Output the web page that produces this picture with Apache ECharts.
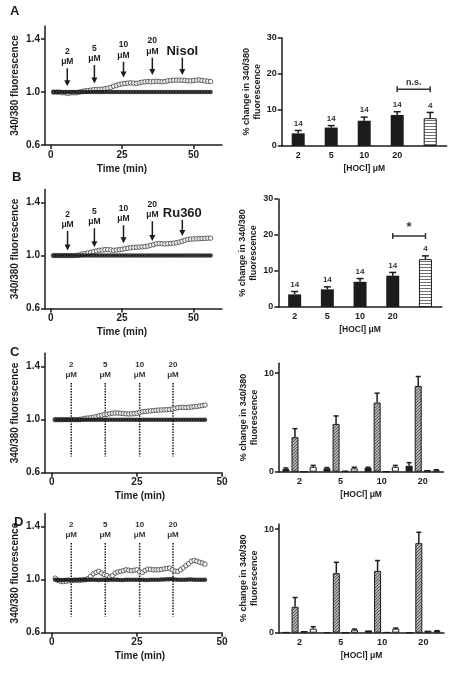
<!DOCTYPE html>
<html><head><meta charset="utf-8">
<script src="https://cdn.jsdelivr.net/npm/echarts@6/dist/echarts.min.js"></script>
<style>html,body{margin:0;padding:0;background:#fff}#c{width:451px;height:675px}</style>
</head><body><div id="c"></div>
<script>
// ---------------- DATA ----------------
const timesAB = [1,2,3,4,5,6,7,8,9,10,11,12,13,14,15,16,17,18,19,20,21,22,23,24,25,26,27,28,29,30,31,32,33,34,35,36,37,38,39,40,41,42,43,44,45,46,47,48,49,50,51,52,53,54,55,56];
const openA = [1.000,1.000,1.000,0.995,0.995,0.990,0.995,0.995,0.995,1.000,
 1.005,1.010,1.012,1.015,1.018,1.020,1.020,1.022,1.025,1.030,
 1.035,1.045,1.050,1.058,1.062,1.065,1.068,1.070,1.068,1.066,
 1.070,1.075,1.078,1.080,1.078,1.080,1.082,1.080,1.078,1.080,
 1.085,1.088,1.090,1.090,1.090,1.090,1.088,1.085,1.085,1.088,
 1.090,1.092,1.088,1.085,1.082,1.080];
const filledA = [1.000,1.000,1.000,1.000,1.000,1.000,1.000,1.000,1.000,1.000,
 1.000,1.000,1.000,1.000,1.000,1.000,1.000,1.000,1.000,1.000,
 1.000,1.000,1.000,1.000,1.000,1.000,1.000,1.000,1.000,1.000,
 1.000,1.000,1.000,1.000,1.000,1.000,1.000,1.000,1.000,1.000,
 1.000,1.000,1.000,1.000,1.000,1.000,1.000,1.000,1.000,1.000,
 1.000,1.000,1.000,1.000,1.000,1.000];
const openB = [1.000,1.000,1.000,1.000,1.000,1.000,1.000,1.000,1.002,1.005,
 1.012,1.015,1.020,1.025,1.030,1.035,1.040,1.042,1.045,1.045,
 1.043,1.040,1.042,1.045,1.048,1.052,1.056,1.060,1.062,1.063,
 1.064,1.066,1.068,1.072,1.078,1.083,1.090,1.092,1.090,1.088,
 1.090,1.092,1.094,1.097,1.102,1.108,1.116,1.122,1.125,1.126,
 1.127,1.128,1.130,1.130,1.132,1.132];
const filledB = [1.000,1.000,1.000,1.000,1.000,1.000,1.000,1.000,1.000,1.000,
 1.000,1.000,1.000,1.000,1.000,1.000,1.000,1.000,1.000,1.000,
 1.000,1.000,1.000,1.000,1.000,1.000,1.000,1.000,1.000,1.000,
 1.000,1.000,1.000,1.000,1.000,1.000,1.000,1.000,1.000,1.000,
 1.000,1.000,1.000,1.000,1.000,1.000,1.000,1.000,1.000,1.000,
 1.000,1.000,1.000,1.000,1.000,1.000];
const timesCD = [1.0,1.8,2.6,3.4,4.2,5.0,5.8,6.6,7.4,8.2,9.0,9.8,10.6,11.4,12.2,13.0,13.8,14.6,15.4,16.2,17.0,17.8,18.6,19.4,20.2,21.0,21.8,22.6,23.4,24.2,25.0,25.8,26.6,27.4,28.2,29.0,29.8,30.6,31.4,32.2,33.0,33.8,34.6,35.4,36.2,37.0,37.8,38.6,39.4,40.2,41.0,41.8,42.6,43.4,44.2,45.0];
const openC = [1.000,1.000,1.000,1.000,1.000,1.000,1.000,1.000,1.000,1.002,
 1.005,1.010,1.012,1.015,1.018,1.022,1.028,1.033,1.038,1.040,
 1.045,1.048,1.050,1.050,1.048,1.046,1.044,1.043,1.044,1.045,
 1.048,1.055,1.060,1.062,1.064,1.066,1.068,1.070,1.072,1.073,
 1.074,1.075,1.076,1.080,1.085,1.090,1.092,1.093,1.092,1.093,
 1.095,1.097,1.100,1.103,1.106,1.110];
const filledC = [1.000,1.000,1.000,1.000,1.000,1.000,1.000,1.000,1.000,1.000,
 1.000,1.000,1.000,1.000,1.000,1.000,1.000,1.000,1.000,1.000,
 1.000,1.000,1.000,1.000,1.000,1.000,1.000,1.000,1.000,1.000,
 1.000,1.000,1.000,1.000,1.000,1.000,1.000,1.000,1.000,1.000,
 1.000,1.000,1.000,1.000,1.000,1.000,1.000,1.000,1.000,1.000,
 1.000,1.000,1.000,1.000,1.000,1.000];
const openD = [1.012,0.995,0.987,0.986,0.988,0.992,0.994,0.995,0.995,0.996,
 0.998,1.000,1.008,1.025,1.045,1.055,1.063,1.050,1.040,1.033,
 1.020,1.030,1.050,1.058,1.063,1.068,1.075,1.072,1.068,1.072,
 1.075,1.060,1.055,1.070,1.080,1.078,1.075,1.075,1.075,1.078,
 1.082,1.085,1.088,1.075,1.065,1.063,1.075,1.090,1.105,1.120,
 1.140,1.145,1.140,1.132,1.126,1.118];
const filledD = [1.000,0.998,0.998,0.998,1.000,1.000,0.998,1.000,1.000,1.000,
 1.000,1.000,1.000,1.000,1.000,1.000,0.998,1.000,1.000,0.998,
 1.000,1.000,1.000,1.000,0.998,0.998,1.000,1.000,1.000,1.000,
 1.000,1.000,1.000,0.998,0.998,1.000,1.000,1.000,1.000,1.002,
 1.002,1.004,1.004,1.006,1.002,1.000,1.000,1.000,1.000,1.002,
 1.002,1.000,1.000,1.000,1.000,1.000];
const timeTicks = [0, 25, 50];
const ratioTicks = [0.6, 1.0, 1.4];

// arrow / dotted-line annotations (data units)
const arrowTimesA = [5.8, 15.3, 25.5, 35.6, 46.1];
const arrowTopsA  = [1.18, 1.204, 1.23, 1.26, 1.26];
const arrowTipsA  = [1.045, 1.065, 1.11, 1.13, 1.13];
const arrowTextA  = ['2\nμM', '5\nμM', '10\nμM', '20\nμM', 'Nisol'];
const arrowTimesB = [5.9, 15.3, 25.5, 35.6, 46.1];
const arrowTopsB  = [1.186, 1.207, 1.23, 1.26, 1.27];
const arrowTipsB  = [1.038, 1.063, 1.093, 1.11, 1.148];
const arrowTextB  = ['2\nμM', '5\nμM', '10\nμM', '20\nμM', 'Ru360'];
const doseTimesCD = [5.7, 15.7, 25.8, 35.6];
const doseTopCD = 1.277, doseBottomCD = 0.723;
const doseTextCD = ['2\nμM', '5\nμM', '10\nμM', '20\nμM'];

// bar panels A/B
const barCats = ['2', '5', '10', '20', ''];
const barA = [3.5, 5.1, 7.0, 8.6, 7.7];
const errA = [4.3, 5.65, 8.0, 9.5, 9.3];
const barB = [3.5, 4.9, 7.0, 8.7, 13.3];
const errB = [4.3, 5.6, 7.9, 9.6, 14.2];
const nLabels = ['14', '14', '14', '14', '4'];
const pctTicksAB = [0, 10, 20, 30];
const bracketA = [3, 15.7, 4], bracketTextA = 'n.s.';
const bracketB = [3, 19.7, 4], bracketTextB = '*';

// grouped bar panels C/D
const groupCats = ['2', '5', '10', '20'];
const cBlack = [0.27, 0.34, 0.37, 0.61], cBlackErr = [0.38, 0.42, 0.45, 0.92];
const cHatch = [3.5, 4.85, 7.02, 8.7],   cHatchErr = [4.37, 5.66, 7.97, 9.66];
const cDark  = [0, 0.1, 0, 0.17];
const cWhite = [0.5, 0.34, 0.5, 0.14],   cWhiteErr = [0.64, 0.45, 0.64, 0.2];
const dBlack = [0.05, 0.03, 0.22, 0];
const dHatch = [2.5, 5.75, 5.97, 8.65],  dHatchErr = [3.4, 6.8, 6.97, 9.7];
const dDark  = [0.16, 0, 0.05, 0.2];
const dWhite = [0.39, 0.29, 0.39, 0.16], dWhiteErr = [0.58, 0.35, 0.45, 0.2];
const pctTicksCD = [0, 10];

// ---------------- STYLE / BUILD ----------------
const FONT = "'Liberation Sans', Arial, Helvetica, sans-serif";
const INK = '#1c1c1c';
function T(size, extra) { return Object.assign({fontFamily: FONT, fontWeight: 'bold', fontSize: size, color: INK}, extra || {}); }

function hatchPattern() {
  const c = document.createElement('canvas'); c.width = 3; c.height = 3;
  const g = c.getContext('2d');
  g.fillStyle = '#b0b0b0'; g.fillRect(0, 0, 3, 3);
  g.fillStyle = '#5a5a5a';
  g.fillRect(0, 2, 1, 1); g.fillRect(1, 1, 1, 1); g.fillRect(2, 0, 1, 1);
  return {image: c, repeat: 'repeat'};
}
function stripePattern() {
  const c = document.createElement('canvas'); c.width = 4; c.height = 3;
  const g = c.getContext('2d');
  g.fillStyle = '#ffffff'; g.fillRect(0, 0, 4, 3);
  g.fillStyle = '#707070'; g.fillRect(0, 0, 4, 1);
  return {image: c, repeat: 'repeat'};
}
const HATCH = hatchPattern();
const STRIPE = stripePattern();

const grids = [], xAxes = [], yAxes = [], series = [];
const axisLineStyle = {show: true, onZero: false, lineStyle: {color: INK, width: 1.5}};

function addLinePanel(box, xMax, times, openV, filledV, namePad, annot) {
  const gi = grids.length;
  grids.push({left: box[0], top: box[1], width: box[2], height: box[3]});
  xAxes.push({gridIndex: gi, type: 'value', min: -2, max: xMax,
    axisLine: axisLineStyle,
    axisTick: {show: true, length: 4, lineStyle: {color: INK, width: 1.5}, customValues: timeTicks},
    axisLabel: Object.assign({customValues: timeTicks, margin: 5}, T(10)),
    splitLine: {show: false},
    name: 'Time (min)', nameLocation: 'middle', nameGap: 19,
    nameTextStyle: T(10, {padding: namePad})});
  yAxes.push({gridIndex: gi, type: 'value', min: 0.6, max: 1.5,
    axisLine: axisLineStyle,
    axisTick: {show: true, length: 4, lineStyle: {color: INK, width: 1.5}, customValues: ratioTicks},
    axisLabel: Object.assign({customValues: ratioTicks, margin: 5, formatter: v => v.toFixed(1)}, T(10)),
    splitLine: {show: false},
    name: '340/380 fluorescence', nameLocation: 'middle', nameGap: 25, nameRotate: 90,
    nameTextStyle: T(10)});
  series.push({type: 'scatter', xAxisIndex: gi, yAxisIndex: gi, silent: true, z: 2,
    data: times.map((t, i) => [t, openV[i]]), symbol: 'circle', symbolSize: 4.5,
    itemStyle: {color: '#fff', borderColor: '#404040', borderWidth: 1}});
  series.push({type: 'scatter', xAxisIndex: gi, yAxisIndex: gi, silent: true, z: 3,
    data: times.map((t, i) => [t, filledV[i]]), symbol: 'circle', symbolSize: 4.5,
    itemStyle: {color: '#111'}});
  series.push(annot(gi));
}

function arrowSeries(times, tops, tips, texts) {
  return function (gi) {
    return {type: 'custom', xAxisIndex: gi, yAxisIndex: gi, silent: true, z: 6,
      data: times.map((t, i) => [t, tops[i], tips[i]]), encode: {x: 0, y: 1},
      renderItem: (params, api) => {
        const a = api.coord([api.value(0), api.value(1)]);
        const b = api.coord([api.value(0), api.value(2)]);
        const txt = texts[params.dataIndex];
        const big = txt.indexOf('\n') < 0;
        return {type: 'group', children: [
          {type: 'line', shape: {x1: a[0], y1: a[1], x2: b[0], y2: b[1] - 5}, style: {stroke: INK, lineWidth: 1.5}},
          {type: 'polygon', shape: {points: [[b[0] - 3, b[1] - 6], [b[0] + 3, b[1] - 6], [b[0], b[1]]]}, style: {fill: INK}},
          {type: 'text', style: {text: txt, x: a[0], y: big ? a[1] + 1 : a[1] - 1, align: 'center', verticalAlign: 'bottom',
            fontFamily: FONT, fontWeight: 'bold', fontSize: big ? 13 : 8.5, lineHeight: big ? 14 : 10.5, fill: INK}}
        ]};
      }};
  };
}
function doseSeries(times, top, bottom, texts) {
  return function (gi) {
    return {type: 'custom', xAxisIndex: gi, yAxisIndex: gi, silent: true, z: 1,
      data: times.map(t => [t, top, bottom]), encode: {x: 0, y: 1},
      renderItem: (params, api) => {
        const a = api.coord([api.value(0), api.value(1)]);
        const b = api.coord([api.value(0), api.value(2)]);
        return {type: 'group', children: [
          {type: 'line', shape: {x1: a[0], y1: a[1], x2: b[0], y2: b[1]}, style: {stroke: INK, lineWidth: 1.5, lineDash: [1.5, 1.2]}},
          {type: 'text', style: {text: texts[params.dataIndex], x: a[0], y: a[1] - 3, align: 'center', verticalAlign: 'bottom',
            fontFamily: FONT, fontWeight: 'bold', fontSize: 8, lineHeight: 10, fill: '#333'}}
        ]};
      }};
  };
}

function barAxes(box, cats, yMax, ticks) {
  const gi = grids.length;
  grids.push({left: box[0], top: box[1], width: box[2], height: box[3]});
  xAxes.push({gridIndex: gi, type: 'category', data: cats,
    axisLine: axisLineStyle, axisTick: {show: false},
    axisLabel: Object.assign({margin: 5, interval: 0}, T(9)),
    name: '[HOCl] μM', nameLocation: 'middle', nameGap: 18, nameTextStyle: T(8.5)});
  yAxes.push({gridIndex: gi, type: 'value', min: 0, max: yMax,
    axisLine: axisLineStyle,
    axisTick: {show: true, length: 4, lineStyle: {color: INK, width: 1.5}, customValues: ticks},
    axisLabel: Object.assign({customValues: ticks, margin: 5}, T(9)),
    splitLine: {show: false},
    name: '% change in 340/380\nfluorescence', nameLocation: 'middle', nameGap: 18, nameRotate: 90,
    nameTextStyle: T(9, {lineHeight: 11})});
  return gi;
}

function errSeries(gi, vals, errs, offset, capHalf, labels) {
  return {type: 'custom', xAxisIndex: gi, yAxisIndex: gi, silent: true, z: 5,
    data: vals.map((v, i) => [i, v, errs ? errs[i] : v]), encode: {x: 0, y: 1},
    renderItem: (params, api) => {
      const i = api.value(0);
      const b = api.coord([i, api.value(1)]);
      const t = api.coord([i, api.value(2)]);
      const x = b[0] + offset;
      const ch = [];
      if (errs) {
        ch.push({type: 'line', shape: {x1: x, y1: b[1], x2: x, y2: t[1]}, style: {stroke: INK, lineWidth: 1.5}});
        ch.push({type: 'line', shape: {x1: x - capHalf, y1: t[1], x2: x + capHalf, y2: t[1]}, style: {stroke: INK, lineWidth: 1.5}});
      }
      if (labels) ch.push({type: 'text', style: {text: labels[params.dataIndex], x: x, y: t[1] - 7, align: 'center', verticalAlign: 'middle',
        fontFamily: FONT, fontWeight: 'bold', fontSize: 8, fill: '#333'}});
      return {type: 'group', children: ch};
    }};
}
function bracketSeries(gi, br, text, textSize) {
  return {type: 'custom', xAxisIndex: gi, yAxisIndex: gi, silent: true, z: 5,
    data: [br], encode: {x: 0, y: 1},
    renderItem: (params, api) => {
      const a = api.coord([api.value(0), api.value(1)]);
      const b = api.coord([api.value(2), api.value(1)]);
      const st = {stroke: '#333', lineWidth: 1.5};
      return {type: 'group', children: [
        {type: 'line', shape: {x1: a[0], y1: a[1], x2: b[0], y2: b[1]}, style: st},
        {type: 'line', shape: {x1: a[0], y1: a[1] - 3, x2: a[0], y2: a[1] + 3}, style: st},
        {type: 'line', shape: {x1: b[0], y1: b[1] - 3, x2: b[0], y2: b[1] + 3}, style: st},
        {type: 'text', style: {text: text, x: (a[0] + b[0]) / 2, y: a[1] - 2, align: 'center', verticalAlign: 'bottom',
          fontFamily: FONT, fontWeight: 'bold', fontSize: textSize, fill: '#333'}}
      ]};
    }};
}

function addBarPanelAB(box, vals, errs, br, brText, brSize) {
  const gi = barAxes(box, barCats, 30, pctTicksAB);
  series.push({type: 'bar', xAxisIndex: gi, yAxisIndex: gi, silent: true, barWidth: 13, z: 2,
    data: vals.map((v, i) => i < 4
      ? {value: v, itemStyle: {color: INK}}
      : {value: v, itemStyle: {color: STRIPE, borderColor: INK, borderWidth: 1}})});
  series.push(errSeries(gi, vals, errs, 0, 3.5, nLabels));
  series.push(bracketSeries(gi, br, brText, brSize));
}

const BW = 7, GAP = 2.1;
function addBarPanelCD(box, yMax, sets) {
  const gi = barAxes(box, groupCats, yMax, pctTicksCD);
  const n = sets.length;
  sets.forEach((s) => {
    series.push({type: 'bar', xAxisIndex: gi, yAxisIndex: gi, silent: true, barWidth: BW, barGap: (GAP / BW * 100) + '%', z: 2,
      data: s.vals, itemStyle: {color: s.color, borderColor: INK, borderWidth: 1}});
  });
  sets.forEach((s, k) => {
    if (s.errs) {
      const off = (k - (n - 1) / 2) * (BW + GAP);
      series.push(errSeries(gi, s.vals, s.errs, off, 2.5, null));
    }
  });
}

// line panels
addLinePanel([45, 26, 177, 119], 60, timesAB, openA, filledA, [0, 23, 0, 0], arrowSeries(arrowTimesA, arrowTopsA, arrowTipsA, arrowTextA));
addLinePanel([45, 189.5, 177, 119], 60, timesAB, openB, filledB, [0, 23, 0, 0], arrowSeries(arrowTimesB, arrowTopsB, arrowTipsB, arrowTextB));
addLinePanel([45, 353.3, 177, 119.4], 50, timesCD, openC, filledC, [0, 0, 0, 13], doseSeries(doseTimesCD, doseTopCD, doseBottomCD, doseTextCD));
addLinePanel([45, 513.5, 177, 119.2], 50, timesCD, openD, filledD, [0, 0, 0, 13], doseSeries(doseTimesCD, doseTopCD, doseBottomCD, doseTextCD));

// bar panels
addBarPanelAB([281.7, 37.7, 165, 108.3], barA, errA, bracketA, bracketTextA, 9);
addBarPanelAB([278.3, 199, 163.5, 108], barB, errB, bracketB, bracketTextB, 13);
addBarPanelCD([279, 363.3, 164.3, 108.4], 11, [
  {vals: cBlack, errs: cBlackErr, color: INK},
  {vals: cHatch, errs: cHatchErr, color: HATCH},
  {vals: cDark, errs: null, color: INK},
  {vals: cWhite, errs: cWhiteErr, color: '#fff'}]);
addBarPanelCD([279, 524, 165, 108.7], 10.5, [
  {vals: dBlack, errs: null, color: INK},
  {vals: dHatch, errs: dHatchErr, color: HATCH},
  {vals: dDark, errs: null, color: INK},
  {vals: dWhite, errs: dWhiteErr, color: '#fff'}]);

const letterFont = {fontFamily: FONT, fontWeight: 'bold', fontSize: 13, fill: INK};
const chart = echarts.init(document.getElementById('c'), null, {renderer: 'canvas'});
chart.setOption({
  animation: false,
  backgroundColor: '#fff',
  grid: grids, xAxis: xAxes, yAxis: yAxes, series: series,
  graphic: [
    {type: 'text', left: 10, top: 5, style: Object.assign({text: 'A'}, letterFont)},
    {type: 'text', left: 12, top: 171, style: Object.assign({text: 'B'}, letterFont)},
    {type: 'text', left: 10, top: 346, style: Object.assign({text: 'C'}, letterFont)},
    {type: 'text', left: 14, top: 516, style: Object.assign({text: 'D'}, letterFont)}
  ]
});
</script>
</body></html>
